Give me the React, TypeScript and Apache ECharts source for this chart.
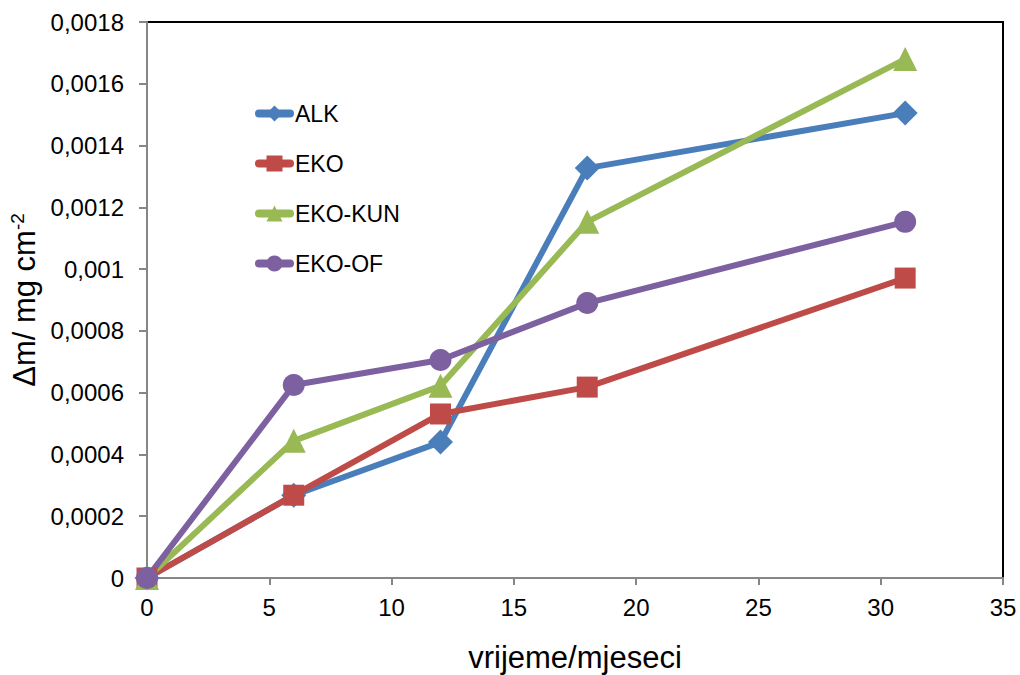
import React, { useEffect, useRef } from "react";
import * as echarts from "echarts";

const months = [0, 6, 12, 18, 31];
const alk = [0, 0.000268, 0.00044, 0.001327, 0.001505];
const eko = [0, 0.000268, 0.000531, 0.000618, 0.000971];
const ekoKun = [0, 0.000444, 0.000622, 0.001153, 0.00168];
const ekoOf = [0, 0.000625, 0.000706, 0.00089, 0.001153];

const seriesNames = ["ALK", "EKO", "EKO-KUN", "EKO-OF"];
const seriesData = [alk, eko, ekoKun, ekoOf];
const colors = ["#4A7EBB", "#BE4B48", "#98B954", "#7D60A0"];
const symbols = ["diamond", "rect", "triangle", "circle"];
const symbolSizes = [25, 21, 24, 22];

const xName = "vrijeme/mjeseci";

export default function App() {
  const ref = useRef<HTMLDivElement>(null);
  useEffect(() => {
    if (!ref.current) return;
    const chart = echarts.init(ref.current, undefined, { renderer: "svg" });
    const font = "'Liberation Sans', Arial, sans-serif";
    chart.setOption({
      animation: false,
      backgroundColor: "#fff",
      textStyle: { fontFamily: font },
      grid: {
        left: 147,
        right: 17,
        top: 22,
        bottom: 97,
        outerBoundsMode: "none",
        containLabel: false,
        show: true,
        borderColor: "#000",
        borderWidth: 2,
        backgroundColor: "transparent",
      },
      legend: {
        orient: "vertical",
        left: 255,
        top: 102,
        padding: 0,
        itemWidth: 31,
        itemHeight: 20,
        itemGap: 27,
        lineStyle: { width: 8, cap: "round" },
        textStyle: { fontSize: 23, color: "#000", fontFamily: font },
        data: seriesNames,
      },
      xAxis: {
        type: "value",
        min: 0,
        max: 35,
        interval: 5,
        name: xName,
        nameLocation: "middle",
        nameGap: 64,
        nameTextStyle: { fontSize: 31, color: "#000", fontFamily: font },
        axisLine: { lineStyle: { color: "#868686", width: 2 } },
        axisTick: { length: 7, lineStyle: { color: "#868686", width: 2 } },
        axisLabel: { fontSize: 24, color: "#000", margin: 17, fontFamily: font },
        splitLine: { show: false },
      },
      yAxis: {
        type: "value",
        min: 0,
        max: 0.0018,
        interval: 0.0002,
        name: "{a|Δm/ mg cm}{s|-2}",
        nameLocation: "middle",
        nameRotate: 90,
        nameGap: 98,
        nameTextStyle: {
          color: "#000",
          rich: {
            a: { fontSize: 31, fontFamily: font, color: "#000" },
            s: { fontSize: 19, fontFamily: font, color: "#000", verticalAlign: "top", padding: [0, 0, 14, 0] },
          },
        },
        axisLine: { show: true, lineStyle: { color: "#868686", width: 2 } },
        axisTick: { show: true, length: 8, lineStyle: { color: "#868686", width: 2 } },
        axisLabel: {
          fontSize: 24,
          color: "#000",
          margin: 23,
          fontFamily: font,
          formatter: (v: number) => String(parseFloat(v.toFixed(4))).replace(".", ","),
        },
        splitLine: { show: false },
      },
      series: seriesNames.map((name, i) => ({
        name,
        type: "line",
        data: months.map((m, j) => [m, seriesData[i][j]]),
        symbol: symbols[i],
        symbolSize: symbolSizes[i],
        showAllSymbol: true,
        lineStyle: { width: 6, color: colors[i] },
        itemStyle: { color: colors[i] },
        emphasis: { disabled: true },
      })),
    });
    return () => chart.dispose();
  }, []);
  return <div ref={ref} style={{ width: 1020, height: 675, position: "absolute", left: 0, top: 0 }} />;
}
